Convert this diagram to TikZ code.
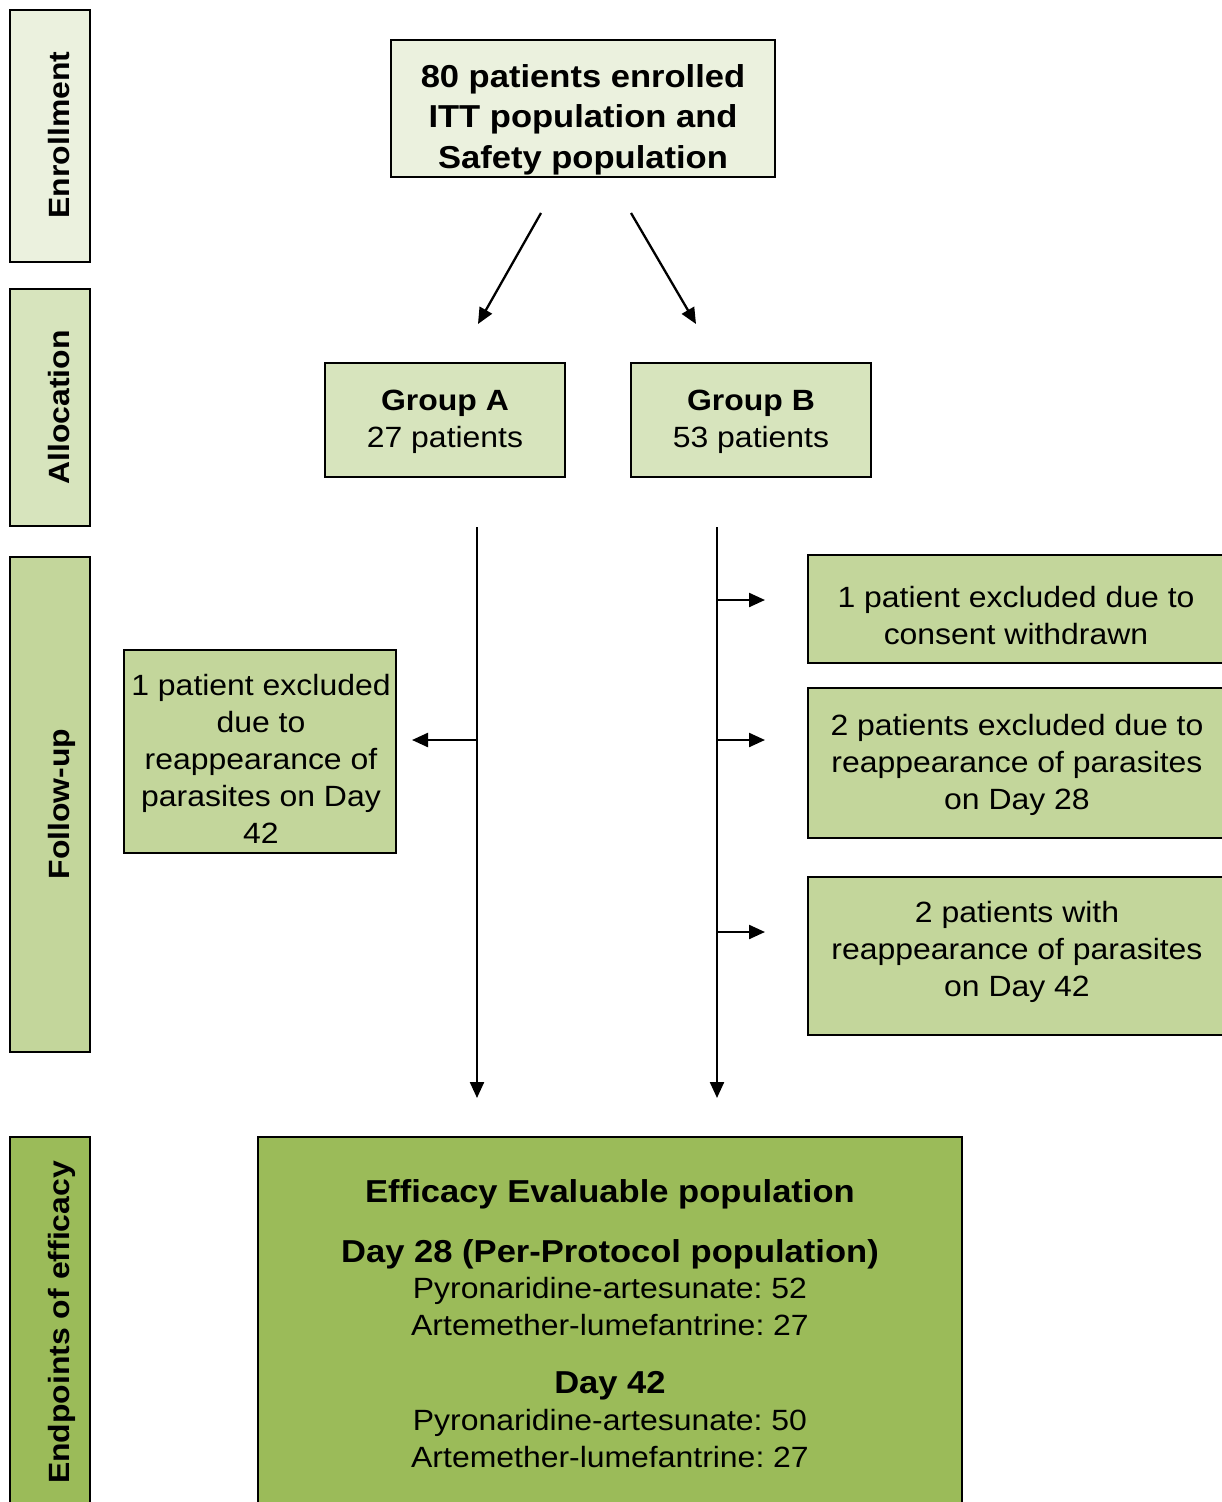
\documentclass[tikz,border=0pt]{standalone}
\usepackage{fontspec}
\setmainfont[FakeStretch=1.09]{Liberation Sans}
\usetikzlibrary{arrows.meta}
\definecolor{cA}{HTML}{EBF1DE}
\definecolor{cB}{HTML}{D7E4BD}
\definecolor{cC}{HTML}{C3D69B}
\definecolor{cD}{HTML}{9BBB59}
\newcommand\fnorm{\fontsize{29.3}{37}\selectfont}
\newcommand\fbig{\fontsize{31.7}{40.5}\selectfont\bfseries}
\newcommand\fbold{\fontsize{29.3}{37}\selectfont\bfseries}
\frenchspacing
\begin{document}
\frenchspacing
\begin{tikzpicture}[x=1pt,y=-1pt,
  box/.style={draw=black, line width=2pt, inner sep=0pt},
  bar/.style={box, minimum width=80pt},
  side/.style={rotate=90, anchor=base, font=\fbold, inner sep=0pt},
  txt/.style={anchor=north, inner sep=0pt, align=center, font=\fnorm},
  btxt/.style={anchor=base, inner sep=0pt, font=\fbig},
  gtxt/.style={anchor=base, inner sep=0pt},
  arr/.style={line width=2.3pt, -{Triangle[length=16pt,width=14pt]}}]
\useasboundingbox (0,0) rectangle (1221,1502);

% side bars
\node[bar, fill=cA, minimum height=252pt] (barEnr) at (50,136) {};
\node[bar, fill=cB, minimum height=237pt] (barAll) at (50,407.5) {};
\node[bar, fill=cC, minimum height=495pt] (barFol) at (50,804.5) {};
\node[bar, fill=cD, minimum height=373pt] (barEnd) at (50,1323.5) {};
\node[side] (lblEnr) at (69,135) {Enrollment};
\node[side] (lblAll) at (69,407.5) {Allocation};
\node[side] (lblFol) at (69,804) {Follow-up};
\node[side] (lblEnd) at (69,1322.5) {Endpoints of efficacy};

% enrollment
\node[box, fill=cA, minimum width=384pt, minimum height=137pt] (enr) at (583,108.5) {};
\node[txt, font=\fbig] (tEnr) at (583,58.65) {\strut 80 patients enrolled\\ITT population and\\Safety population};

% groups
\node[box, fill=cB, minimum width=240pt, minimum height=114pt] (grA) at (445,420) {};
\node[box, fill=cB, minimum width=240pt, minimum height=114pt] (grB) at (751,420) {};
\node[gtxt, font=\fbold] (tA1) at (445,410) {Group A};
\node[gtxt, font=\fnorm] (tA2) at (445,447) {27 patients};
\node[gtxt, font=\fbold] (tB1) at (751,410) {Group B};
\node[gtxt, font=\fnorm] (tB2) at (751,447) {53 patients};

\coordinate (a1s) at (541,213);
\coordinate (a1e) at (478,324);
\coordinate (a2s) at (631,213);
\coordinate (a2e) at (696,324);
\draw[arr] (a1s) -- (a1e);
\draw[arr] (a2s) -- (a2e);

% follow-up lines
\coordinate (vAs) at (477,527);
\coordinate (vAe) at (477,1098);
\coordinate (vBs) at (717,527);
\coordinate (vBe) at (717,1098);
\draw[arr] (vAs) -- (vAe);
\draw[arr] (vBs) -- (vBe);

% left exclusion
\node[box, fill=cC, minimum width=272pt, minimum height=203pt] (exA) at (260,751.5) {};
\node[txt] (tExA) at (261,669.1) {\strut 1 patient excluded\\due to\\reappearance of\\parasites on Day\\42};
\coordinate (brA) at (477,740);
\coordinate (tipA) at (412,740);
\draw[arr] (brA) -- (tipA);

% right exclusions
\node[box, fill=cC, minimum width=416pt, minimum height=108pt] (exB1) at (1016,609) {};
\node[box, fill=cC, minimum width=416pt, minimum height=150pt] (exB2) at (1016,763) {};
\node[box, fill=cC, minimum width=416pt, minimum height=158pt] (exB3) at (1016,956) {};
\node[txt] (tExB1) at (1016,581.1) {\strut 1 patient excluded due to\\consent withdrawn};
\node[txt] (tExB2) at (1017,709.1) {\strut 2 patients excluded due to\\reappearance of parasites\\on Day 28};
\node[txt] (tExB3) at (1017,896.1) {\strut 2 patients with\\reappearance of parasites\\on Day 42};
\coordinate (brB1) at (717,600);
\coordinate (brB2) at (717,740);
\coordinate (brB3) at (717,932);
\coordinate (tipB1) at (765,600);
\coordinate (tipB2) at (765,740);
\coordinate (tipB3) at (765,932);
\draw[arr] (brB1) -- (tipB1);
\draw[arr] (brB2) -- (tipB2);
\draw[arr] (brB3) -- (tipB3);

% endpoints
\node[box, fill=cD, minimum width=704pt, minimum height=373pt] (endp) at (610,1323.5) {};
\node[btxt] (tE1) at (610,1202) {Efficacy Evaluable population};
\node[btxt] (tE2) at (610,1262) {Day 28 (Per-Protocol population)};
\node[txt] (tE3) at (610,1272.1) {\strut Pyronaridine-artesunate: 52\\Artemether-lumefantrine: 27};
\node[btxt] (tE4) at (610,1393) {Day 42};
\node[txt] (tE5) at (610,1404.1) {\strut Pyronaridine-artesunate: 50\\Artemether-lumefantrine: 27};
\end{tikzpicture}
\end{document}
